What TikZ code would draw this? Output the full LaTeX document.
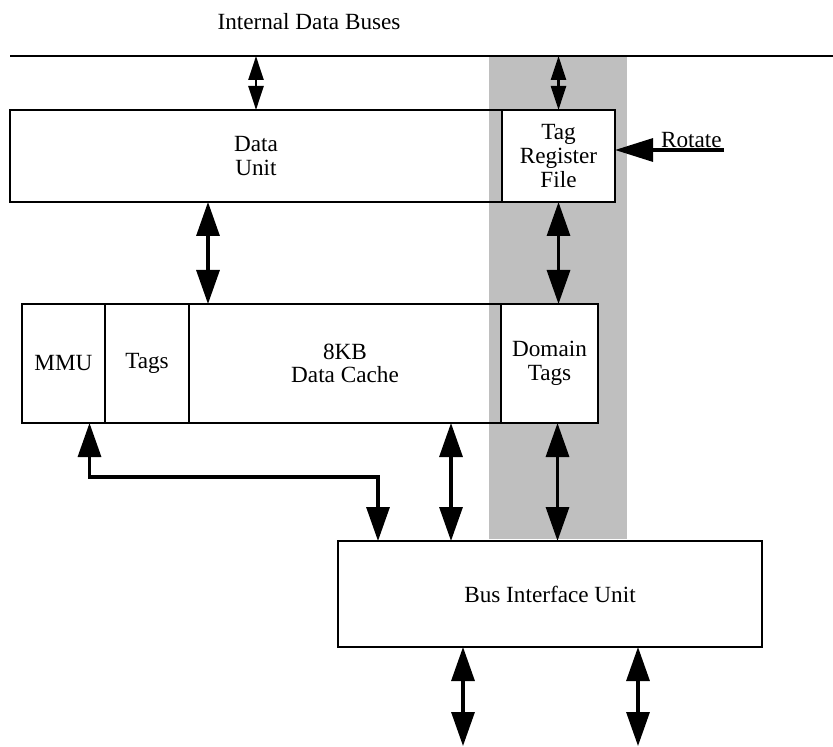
\documentclass[tikz,border=0pt]{standalone}
\usepackage{fontspec}
\setmainfont{Liberation Serif}
\usetikzlibrary{arrows.meta, positioning}

\begin{document}
\begin{tikzpicture}[
  x=0.5pt, y=-0.5pt,
  every node/.style={font=\fontsize{11.6}{11.8}\selectfont, align=center},
  unit/.style={draw, line width=1.1pt, outer sep=0pt, inner sep=0pt},
  dbl/.style={{Triangle[length=17pt,width=11.5pt]}-{Triangle[length=17pt,width=11.5pt]}, line width=1.6pt},
  sdbl/.style={{Triangle[length=12pt,width=7.5pt]}-{Triangle[length=12pt,width=7.5pt]}, line width=1.2pt},
]
\useasboundingbox (0,0) rectangle (833,747);
\fill[gray!50] (489,57) rectangle (627,539);

\coordinate (busL) at (10,56);
\coordinate (busR) at (833,56);
\draw[line width=1pt] (busL) -- (busR);
\node (buslbl) at (309,22) {Internal Data Buses};

\node (data) [unit, minimum width=246pt, minimum height=46pt] at (256,156) {Data\\Unit};
\node (tagreg) [unit, fill=white, minimum width=56.5pt, minimum height=46pt, right=0pt of data] {Tag\\Register\\File};

\node (mmu) [unit, minimum width=41.5pt, minimum height=59.5pt] at (63.5,363.5) {MMU};
\node (tags) [unit, minimum width=42pt, minimum height=59.5pt, right=0pt of mmu] {Tags};
\node (cache) [unit, minimum width=156pt, minimum height=59.5pt, right=0pt of tags] {8KB\\Data Cache};
\node (domain) [unit, fill=white, minimum width=48.5pt, minimum height=59.5pt, right=0pt of cache] {Domain\\Tags};

\node (biu) [unit, minimum width=212pt, minimum height=53pt] at (550,594) {Bus Interface Unit};

\draw[sdbl] (data.north) -- (data.north |- busL);
\draw[sdbl] (tagreg.north) -- (tagreg.north |- busL);
\draw[dbl] ([xshift=-24pt]data.south) -- ([xshift=-24pt]data.south |- cache.north);
\draw[dbl] (tagreg.south) -- (tagreg.south |- domain.north);
\draw[dbl] ([xshift=53pt]cache.south) -- ([xshift=53pt]cache.south |- biu.north);
\draw[dbl] ([xshift=4pt]domain.south) -- ([xshift=4pt]domain.south |- biu.north);

\coordinate (mmubend) at (378,477);
\draw[dbl] ([xshift=13pt]mmu.south) |- (mmubend) -- (mmubend |- biu.north);

\coordinate (rot) at (724,150);
\draw[line width=1.6pt, -{Triangle[length=19pt,width=11.5pt]}] (rot) -- (rot -| tagreg.east);
\node (rotlbl) [anchor=south east, inner sep=1pt] at (rot) {Rotate};

\coordinate (outA) at (463,746);
\coordinate (outB) at (638,746);
\draw[dbl] (outA |- biu.south) -- (outA);
\draw[dbl] (outB |- biu.south) -- (outB);
\end{tikzpicture}
\end{document}
